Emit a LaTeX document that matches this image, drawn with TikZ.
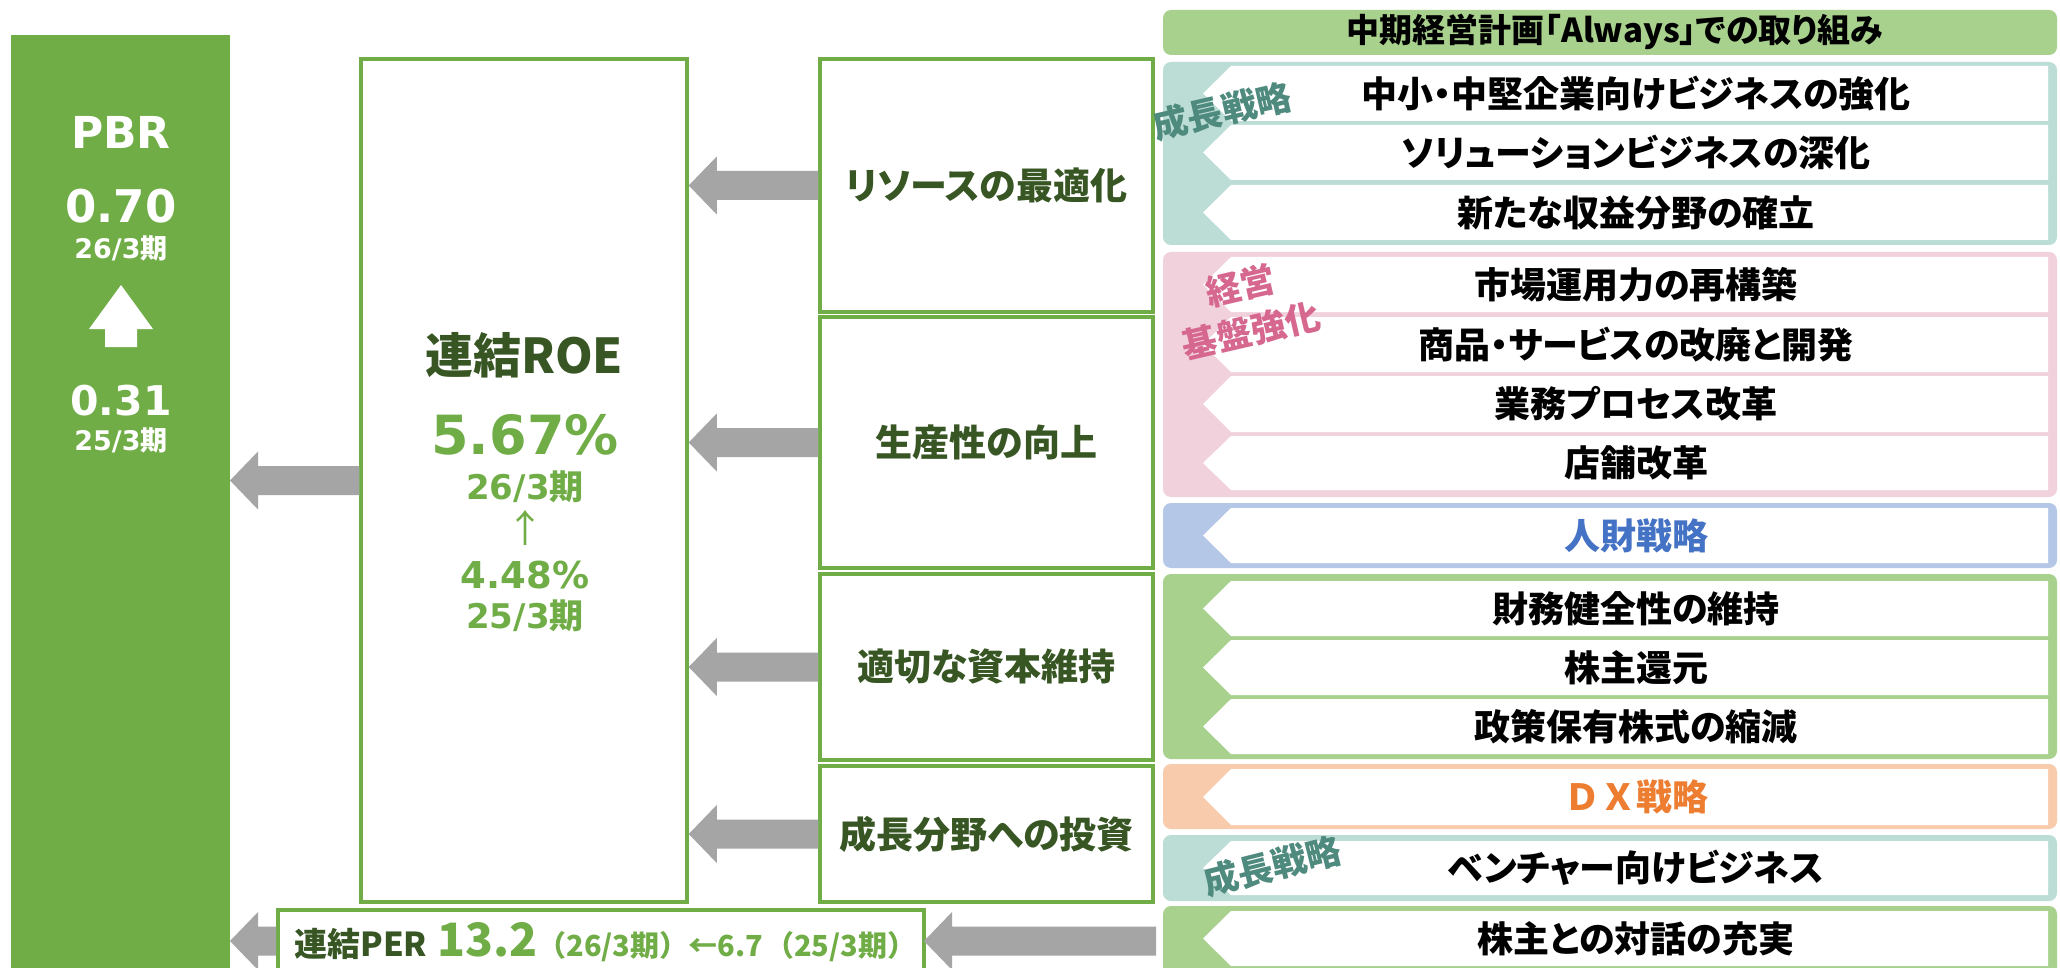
\documentclass[tikz,border=0pt]{standalone}
\usepackage{fontspec}
\usetikzlibrary{calc}
\newfontfamily\jp[RawFeature=+palt]{Noto Sans CJK JP}
\newfontfamily\jpn{Noto Sans CJK JP}
\newfontfamily\dv{DejaVu Sans}
\definecolor{ogreen}{HTML}{70AD47}
\definecolor{dkgreen}{HTML}{375623}
\definecolor{lgreen}{HTML}{A9D18E}
\definecolor{tealp}{HTML}{BCDDD6}
\definecolor{teallab}{HTML}{4E8A7D}
\definecolor{pinkp}{HTML}{F1D1DC}
\definecolor{pinklab}{HTML}{D6678E}
\definecolor{bluep}{HTML}{B4C7E7}
\definecolor{bluet}{HTML}{4472C4}
\definecolor{orangep}{HTML}{F8CBAD}
\definecolor{oranget}{HTML}{ED7D31}
\definecolor{agray}{HTML}{A5A5A5}

% block arrow: #1 tail point (right), #2 tip point (left)
\newcommand\blockarr[2]{%
  \fill[agray] let \p1=(#1), \p2=(#2) in
    (\x2,\y2) -- (\x2+14pt,\y2+14.5pt) -- (\x2+14pt,\y2+7.25pt) -- (\x1,\y2+7.25pt)
    -- (\x1,\y2-7.25pt) -- (\x2+14pt,\y2-7.25pt) -- (\x2+14pt,\y2-14.5pt) -- cycle;}

% white chevron band: #1 name, #2 top, #3 bottom, #4 text
\newcommand\band[4]{%
  \fill[white] (1231,#2) -- (2048,#2) -- (2048,#3) -- (1231,#3) -- (1203,{(#2+#3)/2}) -- cycle;
  \node[itemtext] (#1) at (1636,{(#2+#3)/2}) {#4};}

\begin{document}
\begin{tikzpicture}[x=0.5pt,y=-0.5pt,
  midbox/.style={draw=ogreen, line width=1.75pt, fill=white, inner sep=0,
    font=\jp\bfseries\fontsize{18.5}{21}\selectfont, text=dkgreen},
  itemtext/.style={inner sep=0, font=\jp\bfseries\fontsize{18}{20}\selectfont, text=black},
  lab/.style={inner sep=0, font=\jp\bfseries\fontsize{17.5}{23}\selectfont, align=center},
  wt/.style={inner sep=0, text=white},
  gt/.style={inner sep=0, text=ogreen},
  panel/.style={rounded corners=4pt}]
\useasboundingbox (0,0) rectangle (2060,968);
\clip (0,0) rectangle (2060,968);
\fill[white] (0,0) rectangle (2060,968);

% ---------- left PBR bar ----------
\node[fill=ogreen, inner sep=0, outer sep=0, minimum width=109.5pt, minimum height=470pt,
  anchor=north west] (bar) at (11,35) {};
\node[wt, font=\dv\bfseries\fontsize{22}{24}\selectfont] (pbr) at (121,132) {PBR};
\node[wt, font=\dv\bfseries\fontsize{22.5}{24}\selectfont] (pbrnew) at (121,206) {0.70};
\node[wt, font=\dv\bfseries\fontsize{13.5}{15}\selectfont] (pbrnewp) at (121,248) {26/3{\jp\bfseries 期}};
\fill[white] (121,285) -- (153,329) -- (137,329) -- (137,347) -- (105,347) -- (105,329) -- (89,329) -- cycle;
\node[wt, font=\dv\bfseries\fontsize{20.5}{22}\selectfont] (pbrold) at (121,401) {0.31};
\node[wt, font=\dv\bfseries\fontsize{13.5}{15}\selectfont] (pbroldp) at (121,440) {25/3{\jp\bfseries 期}};

% ---------- ROE box ----------
\node[draw=ogreen, line width=1.75pt, fill=white, inner sep=0, minimum width=163pt,
  minimum height=421.5pt] (roe) at (524,480.5) {};
\node[inner sep=0, text=dkgreen, font=\jp\bfseries\fontsize{24}{26}\selectfont] (roet) at (524,355) {連結ROE};
\node[gt, font=\dv\bfseries\fontsize{27}{29}\selectfont] (roenew) at (525,435) {5.67\%};
\node[gt, font=\dv\bfseries\fontsize{17}{19}\selectfont] (roenewp) at (525,487) {26/3{\jp\bfseries 期}};
\node[gt, font=\jpn\fontsize{19}{21}\selectfont] (roeup) at (525,528) {↑};
\node[gt, font=\dv\bfseries\fontsize{18.5}{20}\selectfont] (roeold) at (525,575) {4.48\%};
\node[gt, font=\dv\bfseries\fontsize{17}{19}\selectfont] (roeoldp) at (525,616) {25/3{\jp\bfseries 期}};

% ---------- middle boxes ----------
\node[midbox, minimum width=166.5pt, minimum height=126.5pt] (b1) at (986.5,185.5) {リソースの最適化};
\node[midbox, minimum width=166.5pt, minimum height=125.5pt] (b2) at (986.5,442.5) {生産性の向上};
\node[midbox, minimum width=166.5pt, minimum height=93pt] (b3) at (986.5,667) {適切な資本維持};
\node[midbox, minimum width=166.5pt, minimum height=68pt] (b4) at (986.5,834) {成長分野への投資};

% ---------- PER box ----------
\node[draw=ogreen, line width=1.75pt, fill=white, inner sep=0, minimum width=323pt,
  minimum height=46pt, anchor=north west] (per) at (276,908) {};
\coordinate (perl) at (276,941);
\coordinate (perr) at (924,941);
\node[anchor=west, inner sep=0, text=ogreen] (pert) at (294,942)
  {{\jp\bfseries\fontsize{16.5}{18}\selectfont\color{dkgreen}連結PER}\hspace{5pt}{\jp\bfseries\fontsize{23}{24}\selectfont 13.2}{\jpn\bfseries\fontsize{14.5}{17}\selectfont （26/3期）←6.7\hspace{1pt}（25/3期）}};

% ---------- right panels ----------
\fill[lgreen, panel] (1163,10) rectangle (2057,55);
\node[inner sep=0, text=black, font=\jp\bfseries\fontsize{16.5}{18}\selectfont] (head) at (1615,32) {中期経営計画「Always」での取り組み};

\fill[tealp, panel] (1163,62) rectangle (2057,245);
\band{i1}{66}{121}{中小・中堅企業向けビジネスの強化}
\band{i2}{125}{180}{ソリューションビジネスの深化}
\band{i3}{185}{240}{新たな収益分野の確立}

\fill[pinkp, panel] (1163,252) rectangle (2057,497);
\band{i4}{257}{312}{市場運用力の再構築}
\band{i5}{317}{372}{商品・サービスの改廃と開発}
\band{i6}{376}{432}{業務プロセス改革}
\band{i7}{436}{490}{店舗改革}

\fill[bluep, panel] (1163,503) rectangle (2057,568);
\band{i8}{508}{563}{\color{bluet}人財戦略}

\fill[lgreen, panel] (1163,574) rectangle (2057,759);
\band{i9}{581}{636}{財務健全性の維持}
\band{i10}{640}{695}{株主還元}
\band{i11}{699}{754}{政策保有株式の縮減}

\fill[orangep, panel] (1163,764) rectangle (2057,829);
\band{i12}{769}{825}{\jpn\bfseries\color{oranget}ＤＸ戦略}

\fill[tealp, panel] (1163,835) rectangle (2057,901);
\band{i13}{841}{895}{ベンチャー向けビジネス}

\fill[lgreen, panel] (1163,906) rectangle (2057,990);
\band{i14}{911}{966}{株主との対話の充実}
\coordinate (g2l) at (1156,941);

% rotated category labels
\node[lab, text=teallab, rotate=13] (lab1) at (1222,111) {成長戦略};
\node[lab, text=pinklab, rotate=13] (lab2) at (1246,308) {経営\\基盤強化};
\node[lab, text=teallab, rotate=14] (lab3) at (1272,866) {成長戦略};

% ---------- arrows ----------
\blockarr{b1.west}{roe.east |- b1.west}
\blockarr{b2.west}{roe.east |- b2.west}
\blockarr{b3.west}{roe.east |- b3.west}
\blockarr{b4.west}{roe.east |- b4.west}
\blockarr{roe.west}{bar.east |- roe.west}
\blockarr{perl}{bar.east |- perl}
\blockarr{g2l}{perr}
\end{tikzpicture}
\end{document}
